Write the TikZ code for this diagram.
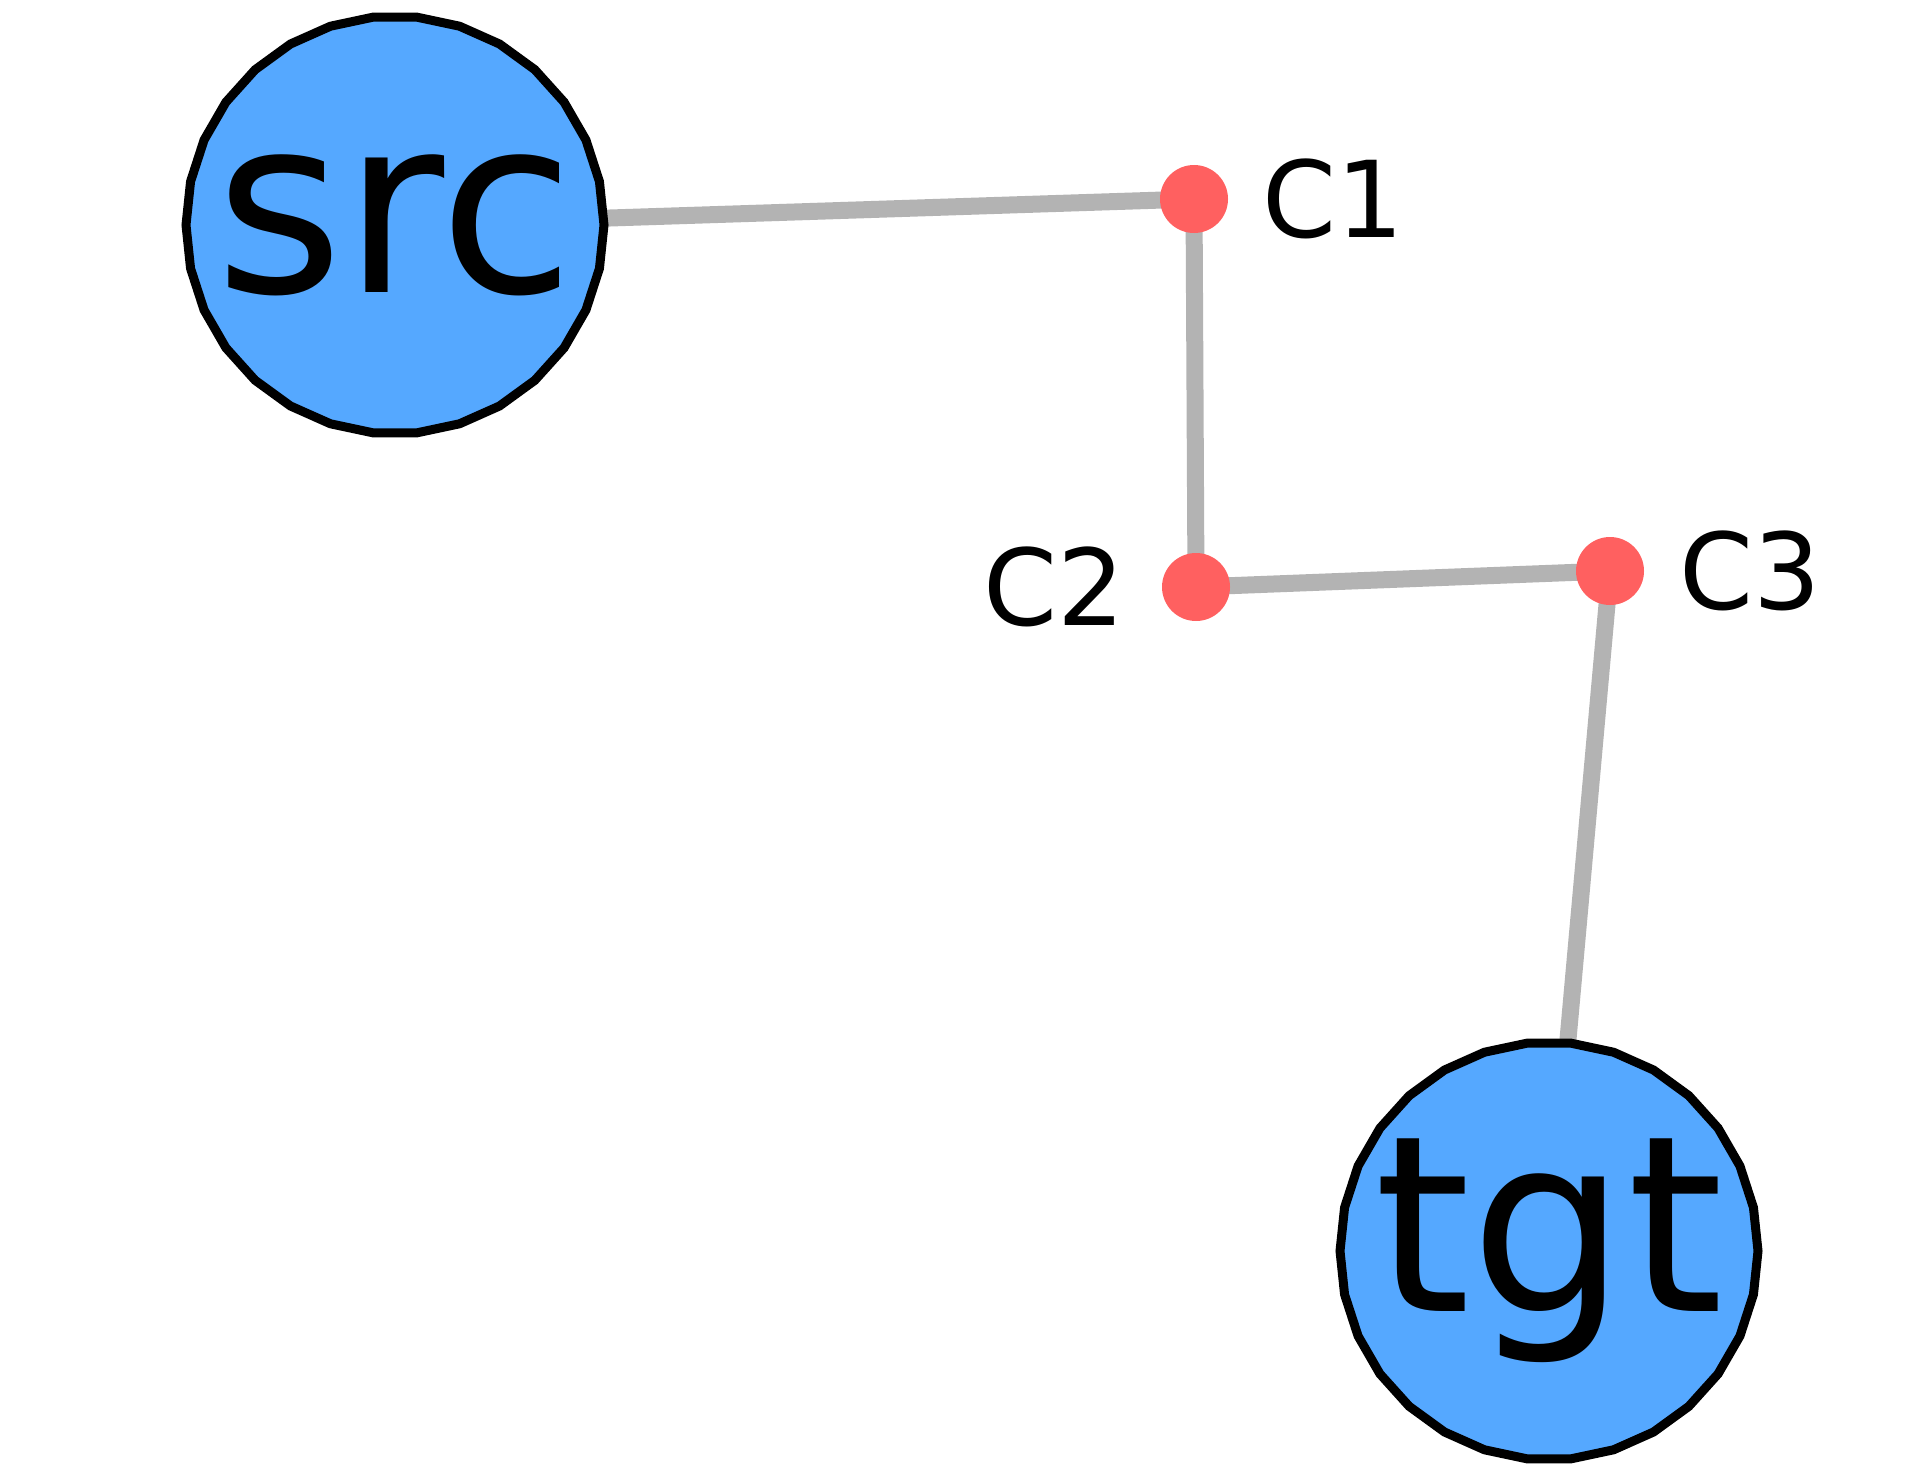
\documentclass[tikz,border=0pt]{standalone}
\usepackage{fontspec}
\setmainfont{DejaVu Sans}
\usetikzlibrary{positioning,shapes.geometric,backgrounds}

\definecolor{vblue}{HTML}{55A8FF}
\definecolor{vred}{HTML}{FF6060}
\definecolor{egray}{HTML}{B3B3B3}

\begin{document}
\begin{tikzpicture}[x=1pt,y=-1pt,
    bignode/.style={regular polygon, regular polygon sides=30, minimum size=418pt, inner sep=0pt,
      fill=vblue, draw=black, line width=9pt, font=\fontsize{246}{246}\selectfont},
    dot/.style={circle, fill=vred, minimum size=68pt, inner sep=0pt},
    lbl/.style={inner sep=0pt, font=\fontsize{106}{106}\selectfont},
    edge/.style={egray, line width=17pt}]
    \useasboundingbox (0,0) rectangle (1916,1482);
    \node[bignode] (src) at (395,225) {\makebox[0pt]{src}}; % source
    \node[bignode] (tgt) at (1549,1251) {\makebox[0pt]{tgt}}; % target
    \node[dot] (c1) at (1194,199) {};
    \node[dot] (c2) at (1196,587) {};
    \node[dot] (c3) at (1610,571) {};
    \node[lbl, right=34pt of c1] (c1lab) {C1};
    \node[lbl, left=37pt of c2] (c2lab) {C2};
    \node[lbl, right=35pt of c3] (c3lab) {C3};
    \begin{scope}[on background layer]
      \draw[edge] (src.center) -- (c1.center) -- (c2.center) -- (c3.center) -- (tgt.center); % path
    \end{scope}
  \end{tikzpicture}
\end{document}
